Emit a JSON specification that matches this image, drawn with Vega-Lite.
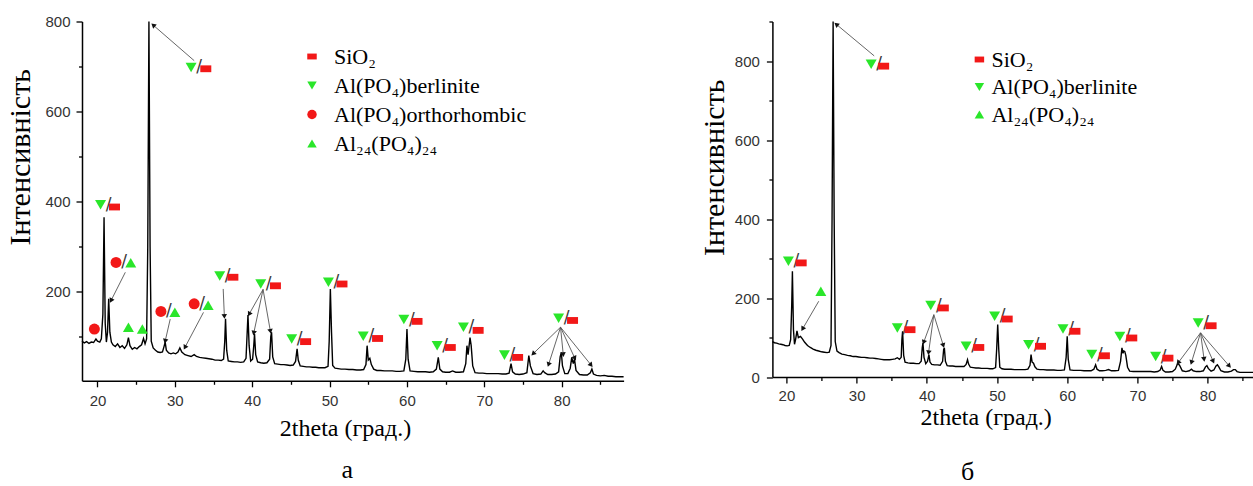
{
  "$schema": "https://vega.github.io/schema/vega-lite/v6.json",
  "background": "white",
  "padding": {"left": 5, "top": 14.5, "right": 0, "bottom": 0},
  "bounds": "flush",
  "spacing": 148.4,
  "config": {
    "view": {"stroke": null},
    "axis": {"domainColor": "#000", "domainWidth": 1.5, "tickColor": "#000", "tickWidth": 1.3, "labelFont": "Liberation Sans", "labelFontSize": 15, "labelColor": "#333", "grid": false, "titleFont": "Liberation Serif", "titleFontWeight": "normal", "titleColor": "#000", "labelOverlap": false, "labelFlush": false},
    "legend": {"labelFont": "Liberation Serif", "labelFontSize": 22, "labelColor": "#000", "labelLimit": 400, "symbolSize": 90, "padding": 0, "symbolStrokeWidth": 0, "symbolOpacity": 1}
  },
  "datasets": {
    "traceA": [
      {"x":18.0,"y":90},{"x":18.3,"y":86},{"x":18.6,"y":89},{"x":18.9,"y":85},{"x":19.2,"y":88},{"x":19.5,"y":87},{"x":19.8,"y":95},{"x":20.0,"y":90},{"x":20.3,"y":88},{"x":20.5,"y":95},{"x":20.7,"y":150},{"x":20.85,"y":365},{"x":21.0,"y":130},{"x":21.15,"y":88},{"x":21.3,"y":110},{"x":21.45,"y":184},{"x":21.6,"y":110},{"x":21.8,"y":88},{"x":22.0,"y":82},{"x":22.3,"y":78},{"x":22.6,"y":84},{"x":22.9,"y":76},{"x":23.2,"y":80},{"x":23.5,"y":74},{"x":23.8,"y":82},{"x":24.0,"y":98},{"x":24.2,"y":80},{"x":24.5,"y":72},{"x":24.8,"y":76},{"x":25.1,"y":73},{"x":25.4,"y":78},{"x":25.7,"y":82},{"x":25.95,"y":96},{"x":26.15,"y":84},{"x":26.35,"y":95},{"x":26.5,"y":300},{"x":26.65,"y":800},{"x":26.8,"y":300},{"x":26.95,"y":90},{"x":27.2,"y":75},{"x":27.5,"y":70},{"x":27.8,"y":66},{"x":28.1,"y":65},{"x":28.4,"y":66},{"x":28.6,"y":78},{"x":28.75,"y":88},{"x":28.9,"y":70},{"x":29.2,"y":64},{"x":29.5,"y":62},{"x":29.8,"y":64},{"x":30.1,"y":62},{"x":30.4,"y":66},{"x":30.65,"y":75},{"x":30.9,"y":66},{"x":31.3,"y":60},{"x":31.7,"y":58},{"x":32.1,"y":56},{"x":32.5,"y":60},{"x":32.8,"y":56},{"x":33.2,"y":54},{"x":33.6,"y":53},{"x":34.0,"y":52},{"x":34.4,"y":51},{"x":34.8,"y":50},{"x":35.2,"y":48},{"x":35.6,"y":48},{"x":36.0,"y":47},{"x":36.3,"y":50},{"x":36.45,"y":90},{"x":36.55,"y":140},{"x":36.7,"y":70},{"x":36.9,"y":46},{"x":37.3,"y":45},{"x":37.7,"y":44},{"x":38.1,"y":44},{"x":38.5,"y":43},{"x":38.9,"y":44},{"x":39.2,"y":52},{"x":39.35,"y":110},{"x":39.45,"y":148},{"x":39.6,"y":80},{"x":39.8,"y":46},{"x":40.05,"y":50},{"x":40.2,"y":80},{"x":40.3,"y":106},{"x":40.45,"y":60},{"x":40.7,"y":44},{"x":41.1,"y":42},{"x":41.5,"y":41},{"x":41.9,"y":42},{"x":42.25,"y":50},{"x":42.4,"y":100},{"x":42.5,"y":110},{"x":42.65,"y":55},{"x":42.9,"y":40},{"x":43.3,"y":39},{"x":43.7,"y":38},{"x":44.1,"y":38},{"x":44.5,"y":37},{"x":44.9,"y":36},{"x":45.3,"y":37},{"x":45.6,"y":45},{"x":45.8,"y":73},{"x":45.95,"y":48},{"x":46.2,"y":35},{"x":46.6,"y":34},{"x":47.0,"y":33},{"x":47.4,"y":33},{"x":47.8,"y":32},{"x":48.2,"y":32},{"x":48.6,"y":31},{"x":49.0,"y":31},{"x":49.4,"y":31},{"x":49.8,"y":34},{"x":49.95,"y":90},{"x":50.1,"y":206},{"x":50.25,"y":110},{"x":50.4,"y":36},{"x":50.7,"y":30},{"x":51.1,"y":29},{"x":51.5,"y":28},{"x":52.0,"y":28},{"x":52.5,"y":27},{"x":53.0,"y":27},{"x":53.5,"y":26},{"x":54.0,"y":26},{"x":54.4,"y":27},{"x":54.7,"y":38},{"x":54.85,"y":80},{"x":55.0,"y":48},{"x":55.2,"y":52},{"x":55.4,"y":38},{"x":55.7,"y":28},{"x":56.1,"y":25},{"x":56.6,"y":25},{"x":57.1,"y":24},{"x":57.6,"y":24},{"x":58.1,"y":24},{"x":58.6,"y":23},{"x":59.1,"y":23},{"x":59.6,"y":24},{"x":59.85,"y":50},{"x":60.0,"y":117},{"x":60.15,"y":50},{"x":60.4,"y":24},{"x":60.9,"y":23},{"x":61.4,"y":22},{"x":61.9,"y":22},{"x":62.4,"y":22},{"x":62.9,"y":21},{"x":63.4,"y":22},{"x":63.8,"y":28},{"x":64.05,"y":54},{"x":64.25,"y":28},{"x":64.6,"y":22},{"x":65.0,"y":21},{"x":65.5,"y":21},{"x":65.9,"y":24},{"x":66.3,"y":21},{"x":66.8,"y":21},{"x":67.3,"y":22},{"x":67.6,"y":40},{"x":67.75,"y":80},{"x":67.9,"y":60},{"x":68.0,"y":75},{"x":68.15,"y":98},{"x":68.3,"y":80},{"x":68.5,"y":35},{"x":68.8,"y":20},{"x":69.3,"y":19},{"x":69.8,"y":19},{"x":70.3,"y":18},{"x":70.8,"y":18},{"x":71.3,"y":18},{"x":71.8,"y":18},{"x":72.3,"y":17},{"x":72.8,"y":17},{"x":73.2,"y":19},{"x":73.45,"y":40},{"x":73.65,"y":22},{"x":74.0,"y":17},{"x":74.5,"y":16},{"x":75.0,"y":17},{"x":75.5,"y":20},{"x":75.75,"y":58},{"x":75.95,"y":35},{"x":76.3,"y":18},{"x":76.8,"y":16},{"x":77.3,"y":17},{"x":77.6,"y":24},{"x":77.8,"y":20},{"x":78.2,"y":16},{"x":78.7,"y":16},{"x":79.2,"y":17},{"x":79.6,"y":22},{"x":79.8,"y":55},{"x":79.95,"y":65},{"x":80.1,"y":35},{"x":80.4,"y":18},{"x":80.8,"y":18},{"x":81.1,"y":30},{"x":81.3,"y":54},{"x":81.5,"y":40},{"x":81.65,"y":50},{"x":81.85,"y":25},{"x":82.3,"y":16},{"x":82.8,"y":15},{"x":83.3,"y":15},{"x":83.7,"y":20},{"x":83.9,"y":28},{"x":84.1,"y":17},{"x":84.5,"y":14},{"x":85.0,"y":13},{"x":85.5,"y":14},{"x":86.0,"y":12},{"x":86.5,"y":12},{"x":87.0,"y":11},{"x":87.5,"y":11},{"x":88.0,"y":11}
    ],
    "traceB": [
      {"x":18.0,"y":90},{"x":18.3,"y":87},{"x":18.6,"y":86},{"x":18.9,"y":84},{"x":19.2,"y":83},{"x":19.5,"y":82},{"x":19.8,"y":80},{"x":20.1,"y":79},{"x":20.4,"y":80},{"x":20.6,"y":95},{"x":20.75,"y":180},{"x":20.85,"y":268},{"x":21.0,"y":120},{"x":21.15,"y":83},{"x":21.3,"y":95},{"x":21.5,"y":117},{"x":21.7,"y":100},{"x":22.0,"y":103},{"x":22.3,"y":96},{"x":22.6,"y":88},{"x":23.0,"y":80},{"x":23.4,"y":75},{"x":23.8,"y":71},{"x":24.2,"y":68},{"x":24.6,"y":66},{"x":25.0,"y":64},{"x":25.4,"y":63},{"x":25.8,"y":62},{"x":26.1,"y":63},{"x":26.35,"y":80},{"x":26.5,"y":400},{"x":26.65,"y":900},{"x":26.8,"y":400},{"x":26.95,"y":90},{"x":27.2,"y":66},{"x":27.5,"y":62},{"x":27.9,"y":58},{"x":28.3,"y":57},{"x":28.7,"y":55},{"x":29.1,"y":54},{"x":29.5,"y":52},{"x":29.9,"y":52},{"x":30.3,"y":51},{"x":30.7,"y":50},{"x":31.1,"y":50},{"x":31.5,"y":49},{"x":31.9,"y":48},{"x":32.3,"y":48},{"x":32.7,"y":47},{"x":33.1,"y":46},{"x":33.5,"y":45},{"x":33.9,"y":44},{"x":34.3,"y":44},{"x":34.7,"y":44},{"x":35.1,"y":45},{"x":35.5,"y":46},{"x":35.8,"y":49},{"x":36.1,"y":45},{"x":36.35,"y":50},{"x":36.45,"y":95},{"x":36.55,"y":116},{"x":36.7,"y":55},{"x":36.9,"y":38},{"x":37.3,"y":36},{"x":37.7,"y":35},{"x":38.1,"y":35},{"x":38.5,"y":34},{"x":38.9,"y":34},{"x":39.2,"y":40},{"x":39.35,"y":75},{"x":39.45,"y":86},{"x":39.6,"y":50},{"x":39.85,"y":34},{"x":40.1,"y":40},{"x":40.3,"y":57},{"x":40.45,"y":38},{"x":40.7,"y":32},{"x":41.1,"y":31},{"x":41.5,"y":31},{"x":41.9,"y":30},{"x":42.25,"y":40},{"x":42.4,"y":70},{"x":42.5,"y":74},{"x":42.65,"y":40},{"x":42.9,"y":29},{"x":43.3,"y":28},{"x":43.7,"y":28},{"x":44.1,"y":27},{"x":44.5,"y":27},{"x":44.9,"y":27},{"x":45.3,"y":27},{"x":45.6,"y":32},{"x":45.8,"y":44},{"x":45.95,"y":33},{"x":46.2,"y":25},{"x":46.6,"y":24},{"x":47.0,"y":23},{"x":47.4,"y":23},{"x":47.8,"y":22},{"x":48.2,"y":22},{"x":48.6,"y":22},{"x":49.0,"y":21},{"x":49.4,"y":21},{"x":49.8,"y":24},{"x":49.95,"y":70},{"x":50.1,"y":133},{"x":50.25,"y":70},{"x":50.4,"y":25},{"x":50.7,"y":21},{"x":51.1,"y":20},{"x":51.5,"y":20},{"x":52.0,"y":20},{"x":52.5,"y":19},{"x":53.0,"y":19},{"x":53.5,"y":19},{"x":54.0,"y":19},{"x":54.4,"y":20},{"x":54.7,"y":30},{"x":54.85,"y":57},{"x":55.0,"y":38},{"x":55.2,"y":35},{"x":55.4,"y":26},{"x":55.7,"y":20},{"x":56.1,"y":19},{"x":56.6,"y":19},{"x":57.1,"y":18},{"x":57.6,"y":18},{"x":58.1,"y":18},{"x":58.6,"y":17},{"x":59.1,"y":17},{"x":59.6,"y":18},{"x":59.85,"y":50},{"x":60.0,"y":103},{"x":60.15,"y":45},{"x":60.4,"y":18},{"x":60.9,"y":17},{"x":61.4,"y":17},{"x":61.9,"y":17},{"x":62.4,"y":16},{"x":62.9,"y":16},{"x":63.4,"y":16},{"x":63.8,"y":20},{"x":64.05,"y":31},{"x":64.25,"y":20},{"x":64.6,"y":16},{"x":65.0,"y":16},{"x":65.5,"y":17},{"x":65.9,"y":19},{"x":66.3,"y":16},{"x":66.8,"y":16},{"x":67.3,"y":17},{"x":67.6,"y":40},{"x":67.8,"y":74},{"x":67.95,"y":60},{"x":68.05,"y":66},{"x":68.2,"y":65},{"x":68.35,"y":55},{"x":68.6,"y":25},{"x":68.9,"y":15},{"x":69.4,"y":14},{"x":69.9,"y":14},{"x":70.4,"y":14},{"x":70.9,"y":14},{"x":71.4,"y":14},{"x":71.9,"y":14},{"x":72.4,"y":13},{"x":72.9,"y":14},{"x":73.25,"y":18},{"x":73.45,"y":27},{"x":73.65,"y":17},{"x":74.0,"y":13},{"x":74.5,"y":13},{"x":75.0,"y":14},{"x":75.4,"y":20},{"x":75.75,"y":35},{"x":76.0,"y":30},{"x":76.4,"y":16},{"x":76.9,"y":14},{"x":77.4,"y":16},{"x":77.7,"y":20},{"x":77.95,"y":16},{"x":78.4,"y":14},{"x":78.9,"y":14},{"x":79.4,"y":16},{"x":79.7,"y":26},{"x":79.9,"y":29},{"x":80.1,"y":22},{"x":80.5,"y":15},{"x":80.9,"y":18},{"x":81.2,"y":28},{"x":81.4,"y":31},{"x":81.6,"y":26},{"x":81.9,"y":16},{"x":82.4,"y":13},{"x":82.9,"y":13},{"x":83.4,"y":15},{"x":83.7,"y":19},{"x":83.95,"y":19},{"x":84.2,"y":14},{"x":84.6,"y":12},{"x":85.0,"y":12},{"x":85.5,"y":12},{"x":86.0,"y":12},{"x":86.6,"y":12}
    ],
    "markersA": [
      {"x":32.1,"y":698,"phase":"Al(PO₄)berlinite","pos":"L"},{"x":34.0,"y":695,"phase":"SiO₂","pos":"R"},
      {"x":20.4,"y":393,"phase":"Al(PO₄)berlinite","pos":"L"},{"x":22.2,"y":388,"phase":"SiO₂","pos":"R"},
      {"x":35.8,"y":235,"phase":"Al(PO₄)berlinite","pos":"L"},{"x":37.5,"y":232,"phase":"SiO₂","pos":"R"},
      {"x":41.1,"y":217,"phase":"Al(PO₄)berlinite","pos":"L"},{"x":43.0,"y":213,"phase":"SiO₂","pos":"R"},
      {"x":45.1,"y":95,"phase":"Al(PO₄)berlinite","pos":"L"},{"x":46.9,"y":89,"phase":"SiO₂","pos":"R"},
      {"x":49.85,"y":221,"phase":"Al(PO₄)berlinite","pos":"L"},{"x":51.6,"y":217,"phase":"SiO₂","pos":"R"},
      {"x":54.35,"y":101,"phase":"Al(PO₄)berlinite","pos":"L"},{"x":56.2,"y":96,"phase":"SiO₂","pos":"R"},
      {"x":59.6,"y":138,"phase":"Al(PO₄)berlinite","pos":"L"},{"x":61.3,"y":134,"phase":"SiO₂","pos":"R"},
      {"x":63.9,"y":80,"phase":"Al(PO₄)berlinite","pos":"L"},{"x":65.6,"y":76,"phase":"SiO₂","pos":"R"},
      {"x":67.3,"y":121,"phase":"Al(PO₄)berlinite","pos":"L"},{"x":69.2,"y":114,"phase":"SiO₂","pos":"R"},
      {"x":72.6,"y":59,"phase":"Al(PO₄)berlinite","pos":"L"},{"x":74.3,"y":54,"phase":"SiO₂","pos":"R"},
      {"x":79.6,"y":141,"phase":"Al(PO₄)berlinite","pos":"L"},{"x":81.4,"y":136,"phase":"SiO₂","pos":"R"},
      {"x":22.4,"y":265,"phase":"Al(PO₄)orthorhombic","pos":"L"},{"x":24.3,"y":264,"phase":"Al₂₄(PO₄)₂₄","pos":"R"},
      {"x":28.2,"y":156,"phase":"Al(PO₄)orthorhombic","pos":"L"},{"x":30.0,"y":154,"phase":"Al₂₄(PO₄)₂₄","pos":"R"},
      {"x":32.5,"y":173,"phase":"Al(PO₄)orthorhombic","pos":"L"},{"x":34.3,"y":170,"phase":"Al₂₄(PO₄)₂₄","pos":"R"},
      {"x":19.6,"y":117,"phase":"Al(PO₄)orthorhombic","pos":"S"},
      {"x":24.0,"y":121,"phase":"Al₂₄(PO₄)₂₄","pos":"S"},
      {"x":25.8,"y":117,"phase":"Al₂₄(PO₄)₂₄","pos":"S"}
    ],
    "markersB": [
      {"x":32.07,"y":792,"phase":"Al(PO₄)berlinite","pos":"L"},{"x":33.85,"y":787,"phase":"SiO₂","pos":"R"},
      {"x":20.28,"y":293,"phase":"Al(PO₄)berlinite","pos":"L"},{"x":22.1,"y":289,"phase":"SiO₂","pos":"R"},
      {"x":35.8,"y":124,"phase":"Al(PO₄)berlinite","pos":"L"},{"x":37.6,"y":120,"phase":"SiO₂","pos":"R"},
      {"x":40.56,"y":181,"phase":"Al(PO₄)berlinite","pos":"L"},{"x":42.35,"y":175,"phase":"SiO₂","pos":"R"},
      {"x":45.6,"y":78,"phase":"Al(PO₄)berlinite","pos":"L"},{"x":47.4,"y":75,"phase":"SiO₂","pos":"R"},
      {"x":49.66,"y":154,"phase":"Al(PO₄)berlinite","pos":"L"},{"x":51.45,"y":147,"phase":"SiO₂","pos":"R"},
      {"x":54.5,"y":82,"phase":"Al(PO₄)berlinite","pos":"L"},{"x":56.2,"y":78,"phase":"SiO₂","pos":"R"},
      {"x":59.4,"y":122,"phase":"Al(PO₄)berlinite","pos":"L"},{"x":61.1,"y":116,"phase":"SiO₂","pos":"R"},
      {"x":63.5,"y":57,"phase":"Al(PO₄)berlinite","pos":"L"},{"x":65.3,"y":54,"phase":"SiO₂","pos":"R"},
      {"x":67.5,"y":103,"phase":"Al(PO₄)berlinite","pos":"L"},{"x":69.2,"y":99,"phase":"SiO₂","pos":"R"},
      {"x":72.6,"y":52,"phase":"Al(PO₄)berlinite","pos":"L"},{"x":74.35,"y":48,"phase":"SiO₂","pos":"R"},
      {"x":78.66,"y":137,"phase":"Al(PO₄)berlinite","pos":"L"},{"x":80.5,"y":130,"phase":"SiO₂","pos":"R"},
      {"x":24.9,"y":217,"phase":"Al₂₄(PO₄)₂₄","pos":"S"}
    ],
    "arrowsA": [
      {"x0":32.5,"y0":713,"x":27.2,"y":792},
      {"x0":23.6,"y0":243,"x":21.75,"y":180},
      {"x0":29.4,"y0":139,"x":28.75,"y":90},
      {"x0":33.7,"y0":154,"x":31.3,"y":76},
      {"x0":36.25,"y0":206,"x":36.4,"y":145},
      {"x0":41.4,"y0":205,"x":39.6,"y":150},
      {"x0":41.4,"y0":205,"x":40.2,"y":108},
      {"x0":41.4,"y0":205,"x":42.35,"y":112},
      {"x0":79.85,"y0":121,"x":76.3,"y":62},
      {"x0":79.85,"y0":121,"x":78.3,"y":38},
      {"x0":79.85,"y0":121,"x":80.2,"y":60},
      {"x0":79.85,"y0":121,"x":81.7,"y":52},
      {"x0":79.85,"y0":121,"x":83.8,"y":37}
    ],
    "arrowsB": [
      {"x0":32.5,"y0":813,"x":27.1,"y":893},
      {"x0":24.6,"y0":192,"x":22.3,"y":122},
      {"x0":41.0,"y0":158,"x":39.55,"y":88},
      {"x0":41.0,"y0":158,"x":40.25,"y":62},
      {"x0":41.0,"y0":158,"x":42.35,"y":80},
      {"x0":79.0,"y0":112,"x":75.8,"y":36},
      {"x0":79.0,"y0":112,"x":77.7,"y":37},
      {"x0":79.0,"y0":112,"x":79.5,"y":45},
      {"x0":79.0,"y0":112,"x":80.8,"y":40},
      {"x0":79.0,"y0":112,"x":83.1,"y":28}
    ]
  },
  "resolve": {
    "scale": {"x": "independent", "y": "independent", "color": "independent", "shape": "independent"},
    "legend": {"color": "independent", "shape": "independent"}
  },
  "hconcat": [
    {
      "width": 541.6,
      "height": 359.3,
      "title": {"text": "а", "orient": "bottom", "frame": "group", "font": "Liberation Serif", "fontSize": 26, "fontWeight": "normal", "color": "#000", "dx": -5.5, "offset": 16},
      "encoding": {
        "x": {"field": "x", "type": "quantitative", "scale": {"domain": [18, 88], "nice": false, "zero": false},
          "axis": {"title": "2theta (град.)", "values": [20,25,30,35,40,45,50,55,60,65,70,75,80,85], "labelExpr": "datum.value % 10 === 0 ? datum.label : ''", "tickSize": {"condition": {"test": "datum.value % 10 !== 0", "value": 3.5}, "value": 6}, "labelPadding": 6.5, "titleFontSize": 24, "titleX": 263, "titleY": 48, "titleBaseline": "middle", "titleAlign": "center", "titleAngle": 0}},
        "y": {"field": "y", "type": "quantitative", "scale": {"domain": [2, 800], "nice": false, "zero": false},
          "axis": {"title": "Інтенсивність", "values": [100,200,300,400,500,600,700,800], "labelExpr": "datum.value % 200 === 0 ? datum.label : ''", "tickSize": {"condition": {"test": "datum.value % 200 !== 0", "value": 3.5}, "value": 6}, "labelPadding": 6, "titleFontSize": 30, "titleX": -61.3, "titleY": 135.3, "titleAngle": -90, "titleBaseline": "middle", "titleAlign": "center"}}
      },
      "layer": [
        {"data": {"name": "traceA"}, "mark": {"type": "line", "color": "#000", "strokeWidth": 1.4}},
        {"data": {"name": "arrowsA"}, "mark": {"type": "rule", "color": "#555", "strokeWidth": 0.9}, "encoding": {"x2": {"field": "x0"}, "y2": {"field": "y0"}}},
        {"data": {"name": "arrowsA"}, "mark": {"type": "point", "shape": "triangle-up", "filled": true, "color": "#111", "opacity": 1, "size": 30, "angle": {"expr": "atan2((datum.x-datum.x0)*7.74,(datum.y-datum.y0)*0.45)*180/PI"}}},
        {"data": {"name": "markersA"}, "transform": [{"filter": "datum.pos === 'L'"}], "mark": {"type": "text", "text": "/", "dx": 8, "fontSize": 17, "font": "DejaVu Sans", "color": "#3a3a3a", "baseline": "middle", "align": "center"}},
        {"data": {"name": "markersA"}, "mark": {"type": "point", "filled": true, "opacity": 1, "size": 121},
          "encoding": {
            "color": {"field": "phase", "type": "nominal", "scale": {"domain": ["SiO₂", "Al(PO₄)berlinite", "Al(PO₄)orthorhombic", "Al₂₄(PO₄)₂₄"], "range": ["#f21818", "#2ae62a", "#f21818", "#2ae62a"]},
              "legend": {"orient": "none", "legendX": 219, "legendY": 24, "title": null, "rowPadding": 7, "labelOffset": 11}},
            "shape": {"field": "phase", "type": "nominal", "scale": {"domain": ["SiO₂", "Al(PO₄)berlinite", "Al(PO₄)orthorhombic", "Al₂₄(PO₄)₂₄"], "range": ["M-1,-0.62L1,-0.62L1,0.62L-1,0.62Z", "triangle-down", "circle", "triangle-up"]},
              "legend": {"orient": "none", "legendX": 219, "legendY": 24, "title": null, "rowPadding": 7, "labelOffset": 11}}
          }}
      ]
    },
    {
      "width": 481.5,
      "height": 355.6,
      "title": {"text": "б", "orient": "bottom", "frame": "group", "font": "Liberation Serif", "fontSize": 26, "fontWeight": "normal", "color": "#000", "dx": -45.5, "offset": 29},
      "encoding": {
        "x": {"field": "x", "type": "quantitative", "scale": {"domain": [18, 86.6], "nice": false, "zero": false},
          "axis": {"title": "2theta (град.)", "values": [20,25,30,35,40,45,50,55,60,65,70,75,80,85], "labelExpr": "datum.value % 10 === 0 ? datum.label : ''", "tickSize": {"condition": {"test": "datum.value % 10 !== 0", "value": 3.5}, "value": 6}, "labelPadding": 5, "titleFontSize": 24, "titleX": 213.3, "titleY": 40.5, "titleBaseline": "middle", "titleAlign": "center", "titleAngle": 0}},
        "y": {"field": "y", "type": "quantitative", "scale": {"domain": [0, 900], "nice": false, "zero": false},
          "axis": {"title": "Інтенсивність", "values": [0,100,200,300,400,500,600,700,800,900], "labelExpr": "datum.value % 200 === 0 ? datum.label : ''", "tickSize": {"condition": {"test": "datum.value % 200 !== 0", "value": 3.5}, "value": 6}, "labelPadding": 7, "titleFontSize": 30, "titleX": -58.2, "titleY": 145.8, "titleAngle": -90, "titleBaseline": "middle", "titleAlign": "center"}}
      },
      "layer": [
        {"data": {"name": "traceB"}, "mark": {"type": "line", "color": "#000", "strokeWidth": 1.4}},
        {"data": {"name": "arrowsB"}, "mark": {"type": "rule", "color": "#555", "strokeWidth": 0.9}, "encoding": {"x2": {"field": "x0"}, "y2": {"field": "y0"}}},
        {"data": {"name": "arrowsB"}, "mark": {"type": "point", "shape": "triangle-up", "filled": true, "color": "#111", "opacity": 1, "size": 30, "angle": {"expr": "atan2((datum.x-datum.x0)*7.02,(datum.y-datum.y0)*0.395)*180/PI"}}},
        {"data": {"name": "markersB"}, "transform": [{"filter": "datum.pos === 'L'"}], "mark": {"type": "text", "text": "/", "dx": 8, "fontSize": 17, "font": "DejaVu Sans", "color": "#3a3a3a", "baseline": "middle", "align": "center"}},
        {"data": {"name": "markersB"}, "mark": {"type": "point", "filled": true, "opacity": 1, "size": 121},
          "encoding": {
            "color": {"field": "phase", "type": "nominal", "scale": {"domain": ["SiO₂", "Al(PO₄)berlinite", "Al₂₄(PO₄)₂₄"], "range": ["#f21818", "#2ae62a", "#2ae62a"]},
              "legend": {"orient": "none", "legendX": 196, "legendY": 27, "title": null, "rowPadding": 5.5, "labelOffset": 1}},
            "shape": {"field": "phase", "type": "nominal", "scale": {"domain": ["SiO₂", "Al(PO₄)berlinite", "Al₂₄(PO₄)₂₄"], "range": ["M-1,-0.62L1,-0.62L1,0.62L-1,0.62Z", "triangle-down", "triangle-up"]},
              "legend": {"orient": "none", "legendX": 196, "legendY": 27, "title": null, "rowPadding": 5.5, "labelOffset": 1}}
          }}
      ]
    }
  ]
}
